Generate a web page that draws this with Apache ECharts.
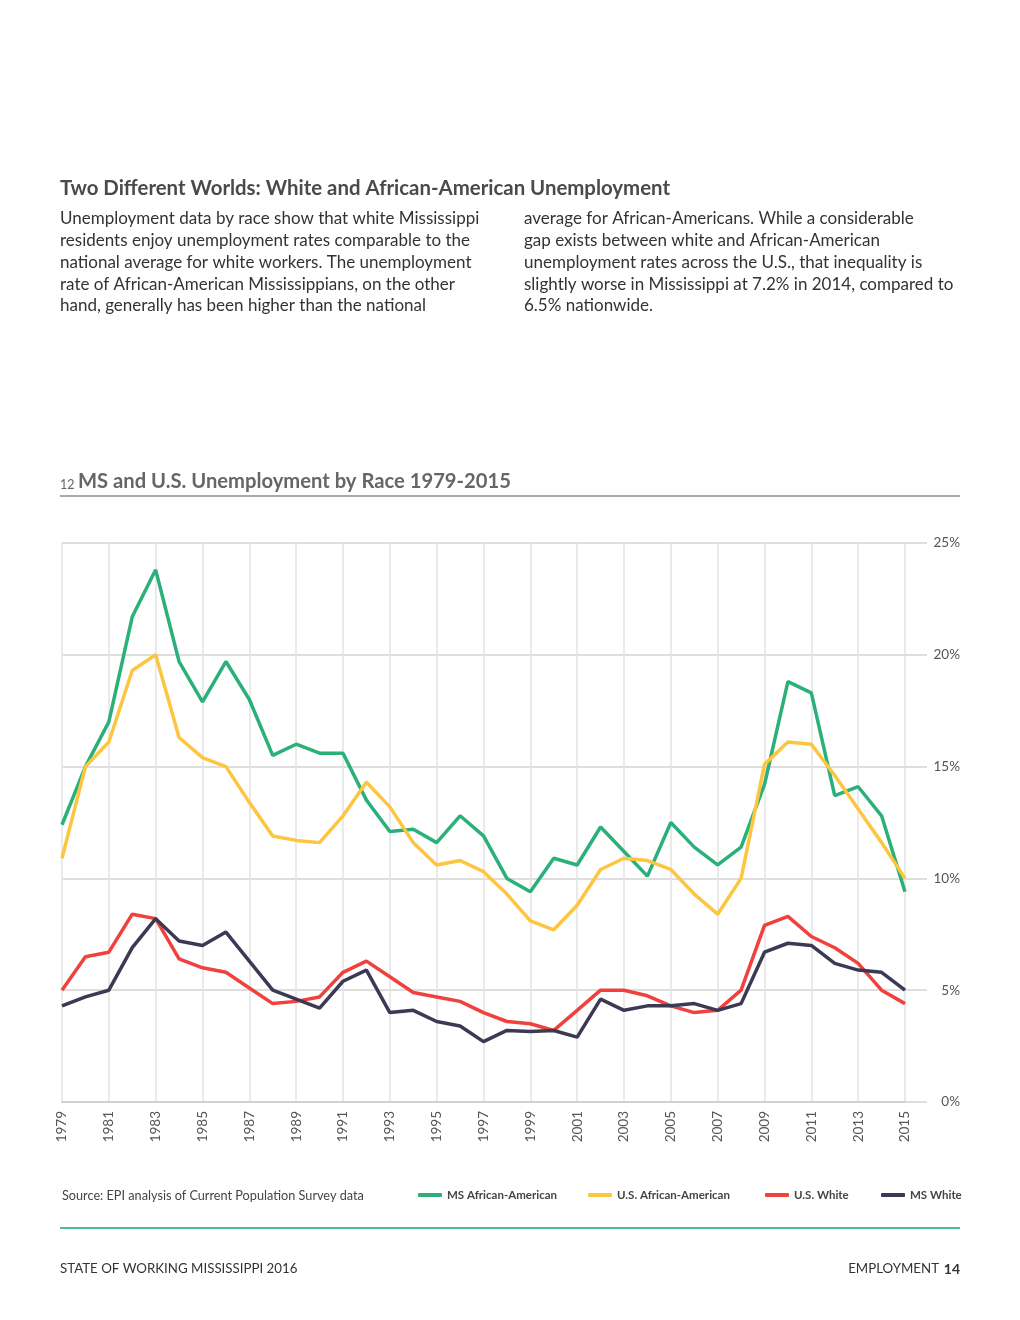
<!DOCTYPE html>
<html>
<head>
<meta charset="utf-8">
<script src="https://cdn.jsdelivr.net/npm/echarts@6/dist/echarts.min.js"></script>
<style>
html,body{margin:0;padding:0;background:#fff;}
#chart{width:1020px;height:1320px;}
</style>
</head>
<body>
<div id="chart"></div>
<script>
// ---- data ----
const years = ["1979","1980","1981","1982","1983","1984","1985","1986","1987","1988",
  "1989","1990","1991","1992","1993","1994","1995","1996","1997","1998",
  "1999","2000","2001","2002","2003","2004","2005","2006","2007","2008",
  "2009","2010","2011","2012","2013","2014","2015"];
const msAfricanAmerican = [12.4,15.0,17.0,21.7,23.8,19.7,17.9,19.7,18.0,15.5,
  16.0,15.6,15.6,13.5,12.1,12.2,11.6,12.8,11.9,10.0,
  9.4,10.9,10.6,12.3,11.2,10.1,12.5,11.4,10.6,11.4,
  14.2,18.8,18.3,13.7,14.1,12.8,9.4];
const usAfricanAmerican = [10.9,15.0,16.1,19.3,20.0,16.3,15.4,15.0,13.4,11.9,
  11.7,11.6,12.8,14.3,13.2,11.6,10.6,10.8,10.3,9.3,
  8.1,7.7,8.8,10.4,10.9,10.8,10.4,9.3,8.4,10.0,
  15.1,16.1,16.0,14.6,13.1,11.6,10.0];
const usWhite = [5.0,6.5,6.7,8.4,8.2,6.4,6.0,5.8,5.1,4.4,
  4.5,4.7,5.8,6.3,5.6,4.9,4.7,4.5,4.0,3.6,
  3.5,3.2,4.1,5.0,5.0,4.75,4.3,4.0,4.1,5.0,
  7.9,8.3,7.4,6.9,6.2,5.0,4.4];
const msWhite = [4.3,4.7,5.0,6.9,8.2,7.2,7.0,7.6,6.3,5.0,
  4.6,4.2,5.4,5.9,4.0,4.1,3.6,3.4,2.7,3.2,
  3.15,3.2,2.9,4.6,4.1,4.3,4.3,4.4,4.1,4.4,
  6.7,7.1,7.0,6.2,5.9,5.8,5.0];
const seriesNames = ["MS African-American","U.S. African-American","U.S. White","MS White"];
const seriesColors = ["#2bb07a","#fdc540","#f0413f","#3b3a55"];
const yTicks = [0,5,10,15,20,25];

// ---- texts ----
const heading = "Two Different Worlds: White and African-American Unemployment";
const paraLeft = [
  "Unemployment data by race show that white Mississippi",
  "residents enjoy unemployment rates comparable to the",
  "national average for white workers. The unemployment",
  "rate of African-American Mississippians, on the other",
  "hand, generally has been higher than the national"
];
const paraRight = [
  "average for African-Americans. While a considerable",
  "gap exists between white and African-American",
  "unemployment rates across the U.S., that inequality is",
  "slightly worse in Mississippi at 7.2% in 2014, compared to",
  "6.5% nationwide."
];
const chartNumber = "12";
const chartTitle = "MS and U.S. Unemployment by Race 1979-2015";
const sourceText = "Source: EPI analysis of Current Population Survey data";
const footerLeft = "STATE OF WORKING MISSISSIPPI 2016";
const footerRightLabel = "EMPLOYMENT";
const footerRightPage = "14";

const FONT = "Lato, 'Open Sans', sans-serif";

function txt(text, x, y, font, fill, align) {
  return {
    type: 'text', silent: true,
    style: {
      text: text, x: x, y: y, font: font, fill: fill,
      align: align || 'left', verticalAlign: 'middle',
      textAlign: align || 'left', textVerticalAlign: 'middle'
    }
  };
}

const graphics = [];
graphics.push(txt(heading, 60, 188, "bold 20.4px " + FONT, "#4a4a4a"));
const lineYs = [219, 241, 263, 285, 306];
paraLeft.forEach((t, i) => graphics.push(txt(t, 60, lineYs[i], "17px " + FONT, "#333333")));
paraRight.forEach((t, i) => graphics.push(txt(t, 524, lineYs[i], "17px " + FONT, "#333333")));
graphics.push(txt(chartNumber, 60, 485, "12.5px " + FONT, "#666666"));
graphics.push(txt(chartTitle, 78, 481, "bold 20.2px " + FONT, "#666666"));
graphics.push({type:'line', silent:true, shape:{x1:60,y1:496,x2:960,y2:496}, style:{stroke:'#a9a9a9', lineWidth:2}});
graphics.push(txt(sourceText, 62, 1196, "12.7px " + FONT, "#444444"));
graphics.push({type:'line', silent:true, shape:{x1:60,y1:1228,x2:960,y2:1228}, style:{stroke:'#4cbf8f', lineWidth:2}});
graphics.push(txt(footerLeft, 60, 1269, "13.3px " + FONT, "#333333"));
graphics.push(txt(footerRightPage, 960, 1269, "bold 14px " + FONT, "#333333", 'right'));
graphics.push(txt(footerRightLabel, 939, 1269, "13.3px " + FONT, "#333333", 'right'));

const legendLefts = [418, 588, 765, 881];
const seriesData = [msAfricanAmerican, usAfricanAmerican, usWhite, msWhite];

const chart = echarts.init(document.getElementById('chart'), null, {renderer: 'canvas'});
chart.setOption({
  animation: false,
  backgroundColor: '#ffffff',
  textStyle: {fontFamily: FONT},
  grid: {left: 62, right: 115, top: 543, bottom: 218, containLabel: false},
  legend: seriesNames.map((n, i) => ({
    data: [n], left: legendLefts[i], top: 1189, orient: 'horizontal',
    selectedMode: false, icon: 'roundRect', itemWidth: 24, itemHeight: 4, itemGap: 0,
    padding: 0,
    textStyle: {fontFamily: FONT, fontWeight: 'bold', fontSize: 11.5, color: '#444444'}
  })),
  xAxis: {
    type: 'category', data: years, boundaryGap: false,
    axisLine: {show: true, lineStyle: {color: '#d0d0d0', width: 2}},
    axisTick: {show: false},
    axisLabel: {interval: 1, rotate: 90, color: '#555555', fontSize: 13.5, margin: 9, fontFamily: FONT},
    splitLine: {show: true, lineStyle: {color: '#e3e3e3', width: 1.5}}
  },
  yAxis: {
    type: 'value', position: 'right', min: yTicks[0], max: yTicks[yTicks.length - 1], interval: 5,
    axisLine: {show: false},
    axisTick: {show: true, length: 22, lineStyle: {color: '#d3d3d3', width: 1.5}},
    axisLabel: {formatter: '{value}%', align: 'right', margin: 55, color: '#555555', fontSize: 13.5, fontFamily: FONT},
    splitLine: {show: true, lineStyle: {color: '#d3d3d3', width: 1.5}}
  },
  series: seriesNames.map((n, i) => ({
    name: n, type: 'line', data: seriesData[i], symbol: 'none', smooth: false,
    lineStyle: {width: 3.5, color: seriesColors[i]}, itemStyle: {color: seriesColors[i]}
  })),
  graphic: graphics
});
</script>
</body>
</html>
